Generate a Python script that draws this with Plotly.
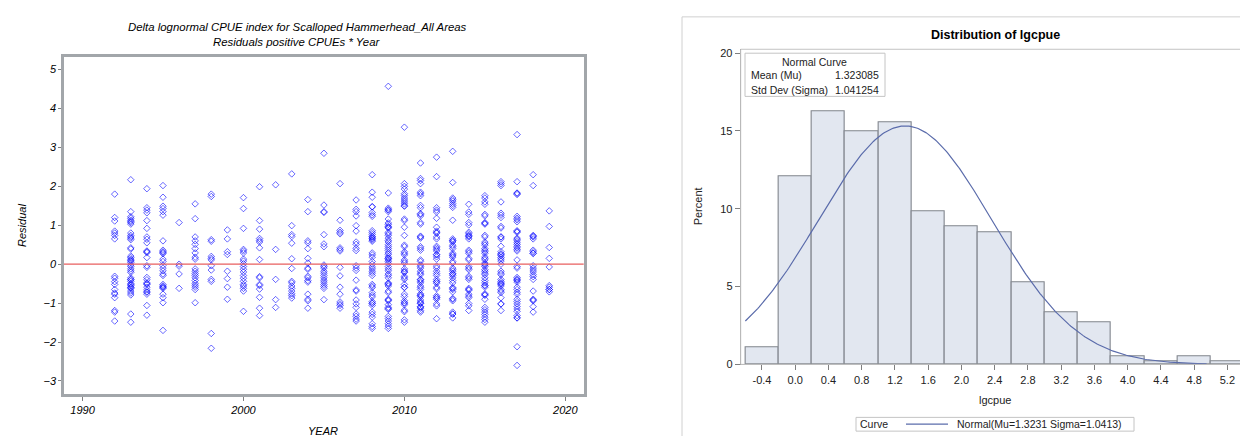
import numpy as np
import plotly.graph_objects as go

# ---------------- data: left panel (residuals by year) ----------------
years = list(range(1992, 2020))
res_1992 = [1.80, 1.20, 1.11, 0.85, 0.80, 0.74, 0.65, -0.31, -0.36, -0.45, -0.52, -0.65, -0.74, -0.77, -0.86, -1.19, -1.23, -1.46]
res_1993 = [2.17, 1.35, 1.22, 1.18, 1.13, 1.10, 1.07, 1.03, 0.80, 0.74, 0.70, 0.67, 0.63, 0.42, 0.39, 0.21, 0.17, 0.13, 0.10, 0.08, 0.04,
            -0.02, -0.06, -0.12, -0.17, -0.21, -0.35, -0.39, -0.40, -0.44, -0.50, -0.52, -0.55, -0.59, -0.60, -0.63, -0.69, -0.74, -0.79, -1.28, -1.49]
res_1994 = [1.94, 1.45, 1.39, 1.32, 1.12, 0.92, 0.70, 0.64, 0.55, 0.34, 0.32, 0.30, 0.17, -0.04, -0.08, -0.34, -0.40, -0.48, -0.50, -0.52, -0.59, -0.66, -0.71, -0.72, -0.77, -1.06, -1.31]
res_1995 = [2.02, 1.72, 1.49, 1.43, 1.35, 1.26, 0.60, 0.36, 0.32, 0.30, 0.27, 0.13, 0.07, -0.03, -0.10, -0.17, -0.25, -0.29, -0.52, -0.56, -0.58, -0.60, -0.62, -0.77, -0.86, -0.99, -1.70]
res_1996 = [1.07, 0.00, -0.05, -0.25, -0.62]
res_1997 = [1.55, 1.17, 0.70, 0.60, 0.51, 0.40, 0.29, 0.18, 0.13, -0.12, -0.18, -0.24, -0.29, -0.35, -0.42, -0.49, -0.54, -0.59, -0.65, -0.99]
res_1998 = [1.80, 1.74, 0.63, 0.59, 0.20, 0.15, 0.11, -0.04, -0.15, -0.39, -0.44, -1.78, -2.16]
res_1999 = [0.88, 0.65, 0.32, 0.25, -0.18, -0.37, -0.59, -0.90]
res_2000 = [1.71, 1.43, 0.92, 0.38, 0.34, 0.29, 0.13, 0.08, 0.01, -0.06, -0.13, -0.20, -0.29, -0.36, -0.44, -0.52, -0.56, -0.62, -0.69, -1.21]
res_2001 = [1.99, 1.12, 0.90, 0.66, 0.61, 0.57, 0.42, 0.12, -0.32, -0.35, -0.52, -0.55, -0.64, -0.85, -1.13, -1.32]
res_2002 = [2.04, 0.38, -0.39, -0.91, -1.11]
res_2003 = [2.32, 0.99, 0.76, 0.71, 0.54, 0.14, -0.11, -0.44, -0.48, -0.56, -0.62, -0.69, -0.76, -0.81, -0.87]
res_2004 = [1.66, 1.35, 0.60, 0.55, 0.40, 0.15, 0.03, -0.10, -0.13, -0.31, -0.35, -0.42, -0.46, -0.77, -0.90, -0.94, -1.13]
res_2005 = [2.85, 1.52, 1.35, 1.33, 0.76, 0.52, 0.45, -0.02, -0.06, -0.10, -0.18, -0.23, -0.29, -0.35, -0.41, -0.46, -0.52, -0.57, -0.62, -0.91]
res_2006 = [2.07, 1.13, 0.87, 0.82, 0.78, 0.42, 0.38, 0.34, -0.08, -0.30, -0.59, -0.77, -0.97, -1.02, -1.06, -1.13]
res_2007 = [1.65, 1.41, 1.35, 1.24, 0.99, 0.85, 0.57, 0.51, 0.41, 0.35, -0.04, -0.10, -0.16, -0.41, -0.66, -0.69, -0.92, -1.02, -1.11, -1.28, -1.34, -1.41, -1.46]
res_2008 = [2.30, 1.85, 1.72, 1.48, 1.47, 1.33, 1.27, 1.23, 0.86, 0.81, 0.76, 0.71, 0.70, 0.67, 0.65, 0.62, 0.59, 0.29, 0.24, 0.18, 0.07, 0.00,
            -0.07, -0.12, -0.18, -0.23, -0.29, -0.52, -0.56, -0.60, -0.73, -0.79, -0.84, -0.96, -1.00, -1.01, -1.06, -1.23, -1.29, -1.36, -1.53, -1.60, -1.65]
res_2009 = [4.57, 1.83, 1.44, 1.40, 1.39, 1.35, 1.16, 1.06, 1.02, 0.97, 0.95, 0.93, 0.82, 0.78, 0.74, 0.67, 0.61, 0.57, 0.50, 0.45, 0.40, 0.35,
            0.29, 0.25, 0.19, 0.15, 0.15, 0.11, 0.07, 0.02, -0.06, -0.12, -0.17, -0.25, -0.29, -0.35, -0.48, -0.50, -0.52, -0.56, -0.69, -0.73,
            -0.90, -0.92, -0.94, -1.04, -1.11, -1.14, -1.16, -1.34, -1.40, -1.46, -1.53, -1.59, -1.65]
res_2010 = [3.52, 2.07, 2.00, 1.93, 1.81, 1.76, 1.70, 1.65, 1.60, 1.55, 1.50, 1.49, 1.16, 1.12, 0.95, 0.74, 0.49, 0.45, 0.32, 0.28, 0.24, 0.11,
            0.07, 0.03, -0.12, -0.17, -0.20, -0.21, -0.31, -0.35, -0.39, -0.52, -0.59, -0.60, -0.77, -0.83, -0.94, -0.99, -1.00, -1.04, -1.18,
            -1.22, -1.43, -1.49]
res_2011 = [2.60, 2.20, 2.15, 2.07, 1.85, 1.81, 1.76, 1.51, 1.45, 1.30, 1.28, 1.24, 1.07, 1.03, 0.72, 0.70, 0.67, 0.45, 0.41, 0.36, 0.11, 0.07,
            -0.02, -0.06, -0.10, -0.18, -0.23, -0.27, -0.39, -0.40, -0.44, -0.48, -0.56, -0.60, -0.65, -0.76, -0.80, -0.80, -0.84, -0.92, -0.97,
            -1.00, -1.01, -1.09, -1.10, -1.13, -1.19, -1.23]
res_2012 = [2.75, 2.25, 1.45, 1.39, 1.34, 1.18, 0.95, 0.85, 0.81, 0.80, 0.70, 0.65, 0.46, 0.42, 0.38, 0.34, 0.25, 0.24, 0.19, 0.13, -0.05, -0.10,
            -0.18, -0.24, -0.29, -0.39, -0.44, -0.45, -0.49, -0.59, -0.63, -0.81, -0.85, -0.86, -0.90, -1.02, -1.07, -1.40]
res_2013 = [2.90, 2.10, 1.70, 1.66, 1.62, 1.56, 1.51, 1.46, 1.13, 0.65, 0.61, 0.60, 0.57, 0.49, 0.45, 0.40, 0.28, 0.24, 0.22, 0.18, 0.07, 0.03,
            -0.10, -0.14, -0.18, -0.24, -0.25, -0.29, -0.35, -0.42, -0.48, -0.60, -0.62, -0.65, -0.71, -0.88, -0.90, -0.94, -1.23, -1.28, -1.28, -1.38]
res_2014 = [1.54, 1.34, 1.28, 1.07, 1.01, 0.82, 0.78, 0.74, 0.72, 0.70, 0.65, 0.36, 0.32, 0.28, 0.15, 0.11, -0.06, -0.10, -0.14, -0.31, -0.35,
            -0.39, -0.62, -0.65, -0.67, -0.77, -0.82, -0.86, -1.01, -1.07, -1.19]
res_2015 = [1.76, 1.70, 1.60, 1.54, 1.28, 1.24, 1.07, 1.05, 1.03, 0.74, 0.70, 0.57, 0.53, 0.49, 0.40, 0.36, 0.32, 0.28, 0.19, 0.15, 0.11, 0.03,
            0.00, -0.02, -0.06, -0.14, -0.18, -0.23, -0.27, -0.35, -0.42, -0.48, -0.54, -0.55, -0.59, -0.76, -0.78, -0.80, -0.90, -1.11, -1.17,
            -1.23, -1.29, -1.36, -1.42, -1.49]
res_2016 = [2.12, 2.07, 2.02, 1.60, 1.31, 1.26, 1.20, 0.97, 0.93, 0.70, 0.70, 0.65, 0.46, 0.32, 0.27, 0.25, 0.22, 0.17, 0.13, 0.08, 0.00, -0.18,
            -0.23, -0.27, -0.39, -0.44, -0.48, -0.50, -0.52, -0.56, -0.65, -0.69, -0.73, -0.86, -1.02, -1.02, -1.19]
res_2017 = [3.33, 2.12, 1.83, 1.82, 1.79, 1.23, 1.18, 1.14, 1.09, 0.86, 0.84, 0.82, 0.67, 0.64, 0.60, 0.55, 0.51, 0.46, 0.42, 0.38, 0.34, 0.11,
            -0.06, -0.10, -0.34, -0.38, -0.40, -0.42, -0.46, -0.59, -0.65, -0.72, -0.77, -0.90, -0.96, -1.02, -1.09, -1.15, -1.21, -1.32, -1.38,
            -1.38, -2.12, -2.60]
res_2018 = [2.30, 2.02, 0.74, 0.72, 0.70, 0.65, 0.36, 0.32, 0.28, 0.28, -0.04, -0.10, -0.15, -0.20, -0.27, -0.32, -0.39, -0.69, -0.90, -0.92,
            -0.94, -1.09, -1.23]
res_2019 = [1.37, 0.97, 0.43, 0.15, -0.07, -0.55, -0.59, -0.65, -0.65, -0.71]

residuals = [res_1992, res_1993, res_1994, res_1995, res_1996, res_1997, res_1998, res_1999, res_2000,
             res_2001, res_2002, res_2003, res_2004, res_2005, res_2006, res_2007, res_2008, res_2009,
             res_2010, res_2011, res_2012, res_2013, res_2014, res_2015, res_2016, res_2017, res_2018, res_2019]
year_ticks = [1990, 2000, 2010, 2020]

# ---------------- data: right panel (histogram of lgcpue) ----------------
bin_mids = [-0.4, 0.0, 0.4, 0.8, 1.2, 1.6, 2.0, 2.4, 2.8, 3.2, 3.6, 4.0, 4.4, 4.8, 5.2]
bin_pct = [1.09, 12.11, 16.26, 14.97, 15.56, 9.86, 8.87, 8.50, 5.26, 3.32, 2.69, 0.53, 0.23, 0.53, 0.23]
bin_width = 0.4
hist_ticktext = ["-0.4", "0.0", "0.4", "0.8", "1.2", "1.6", "2.0", "2.4", "2.8", "3.2", "3.6", "4.0", "4.4", "4.8", "5.2"]
mu = 1.323085
sigma = 1.041254
curve_start, curve_end = -0.6, 4.95

W, H = 1248, 436
def px(x):
    return x / W
def py(y):
    return 1 - y / H

xs, ys = [], []
for yr, vals in zip(years, residuals):
    xs += [yr] * len(vals)
    ys += vals

blue = 'rgba(0,0,255,0.6)'
fig = go.Figure()
fig.add_trace(go.Scatter(
    x=xs, y=ys, mode='markers', xaxis='x', yaxis='y', showlegend=False, hoverinfo='skip',
    marker=dict(symbol='diamond-open', size=5, color=blue, line=dict(width=1, color=blue))))

fig.add_trace(go.Bar(
    x=bin_mids, y=bin_pct, width=bin_width, xaxis='x2', yaxis='y2', showlegend=False,
    marker=dict(color='#e2e7f0', line=dict(color='#80858c', width=1.1))))

xc = np.linspace(curve_start, curve_end, 300)
yc = 100 * bin_width * np.exp(-0.5 * ((xc - mu) / sigma) ** 2) / (sigma * np.sqrt(2 * np.pi))
fig.add_trace(go.Scatter(x=xc, y=yc, mode='lines', xaxis='x2', yaxis='y2', showlegend=False,
                         line=dict(color='#5b6cab', width=1.2)))

ital = dict(family='Liberation Sans', size=11, color='black', style='italic')
ital_t = dict(family='Liberation Sans', size=11.4, color='black', style='italic')
reg = dict(family='Liberation Sans', size=11, color='#222222')
frame_col = '#a2a6aa'

fig.update_layout(
    width=W, height=H, margin=dict(l=0, r=0, t=0, b=0),
    paper_bgcolor='white', plot_bgcolor='white', bargap=0,
    xaxis=dict(domain=[px(56), px(575.7)], range=[1988.85, 2021.14], tickvals=year_ticks,
               ticks='outside', ticklen=4, tickcolor='#808080', showline=True, mirror=True,
               linecolor=frame_col, linewidth=2.5, showgrid=False, zeroline=False,
               tickfont=ital, anchor='y'),
    yaxis=dict(domain=[py(391), py(48)], range=[-3.33, 5.32], dtick=1, tick0=0,
               ticks='outside', ticklen=3, tickcolor='#808080', showline=True, mirror=True,
               linecolor=frame_col, linewidth=2.5, showgrid=False, zeroline=False,
               tickfont=ital, anchor='x'),
    xaxis2=dict(domain=[px(732.7), px(1241)], range=[-0.656, 5.46], tickvals=bin_mids,
                ticktext=hist_ticktext, ticks='outside', ticklen=5, tickcolor='#7f7f7f',
                showline=True, linecolor='#8a8a8a', linewidth=1, showgrid=False, zeroline=False,
                tickfont=reg, anchor='y2'),
    yaxis2=dict(domain=[py(361), py(40)], range=[0, 20.25], tickvals=[0, 5, 10, 15, 20],
                ticks='outside', ticklen=5, tickcolor='#7f7f7f', showline=True,
                linecolor='#8a8a8a', linewidth=1, showgrid=False, zeroline=False,
                tickfont=reg, anchor='x2'),
)

shapes = [
    # zero reference line in the residual plot
    dict(type='line', xref='x domain', yref='y', x0=0, x1=1, y0=0, y1=0,
         line=dict(color='rgb(232,95,95)', width=1.2)),
    # wall border of histogram
    dict(type='rect', xref='x2 domain', yref='y2 domain', x0=0, x1=1, y0=0, y1=1,
         line=dict(color='#c4c4c4', width=1)),
    # outer border of the right graph
    dict(type='line', xref='paper', yref='paper', x0=px(674), x1=px(674), y0=0, y1=py(7),
         line=dict(color='#d0d0d0', width=1)),
    dict(type='line', xref='paper', yref='paper', x0=px(674), x1=1, y0=py(7), y1=py(7),
         line=dict(color='#d0d0d0', width=1)),
    # inset box
    dict(type='rect', xref='paper', yref='paper', x0=px(737), x1=px(877), y0=py(88), y1=py(44),
         line=dict(color='#c4c4c4', width=1), fillcolor='white'),
    # legend box
    dict(type='rect', xref='paper', yref='paper', x0=px(848), x1=px(1126), y0=py(429), y1=py(415),
         line=dict(color='#c4c4c4', width=1), fillcolor='white'),
    dict(type='line', xref='paper', yref='paper', x0=px(898), x1=px(940), y0=py(421.8), y1=py(421.8),
         line=dict(color='#5b6cab', width=1.2)),
]
fig.update_layout(shapes=shapes)

def ann(text, x, y, font, xanchor='center', angle=0):
    return dict(text=text, x=px(x), y=py(y), xref='paper', yref='paper', showarrow=False,
                xanchor=xanchor, yanchor='middle', font=font, textangle=angle)

small = dict(family='Liberation Sans', size=10.5, color='#222222')
annotations = [
    ann('Delta lognormal CPUE index for Scalloped Hammerhead_All Areas', 289, 17, ital_t),
    ann('Residuals positive CPUEs * Year', 289, 33, ital_t),
    ann('Residual', 14, 220, ital, angle=-90),
    ann('YEAR', 315, 429, ital),
    ann('<b>Distribution of lgcpue</b>', 987, 25, dict(family='Liberation Sans', size=12.5, color='black')),
    ann('Percent', 690, 200, reg, angle=-90),
    ann('lgcpue', 987, 397, reg),
    ann('Normal Curve', 806.6, 52.7, small),
    ann('Mean (Mu)', 741, 66.7, small, xanchor='left'),
    ann('%.6f' % mu, 872.5, 66.7, small, xanchor='right'),
    ann('Std Dev (Sigma)', 741, 81, small, xanchor='left'),
    ann('%.6f' % sigma, 872.5, 81, small, xanchor='right'),
    ann('Curve', 866, 421.8, small),
    ann('Normal(Mu=%.4f Sigma=%.4f)' % (mu, sigma), 946.5, 421.8, small, xanchor='left'),
]
fig.update_layout(annotations=annotations)

fig.write_html('out.html')
